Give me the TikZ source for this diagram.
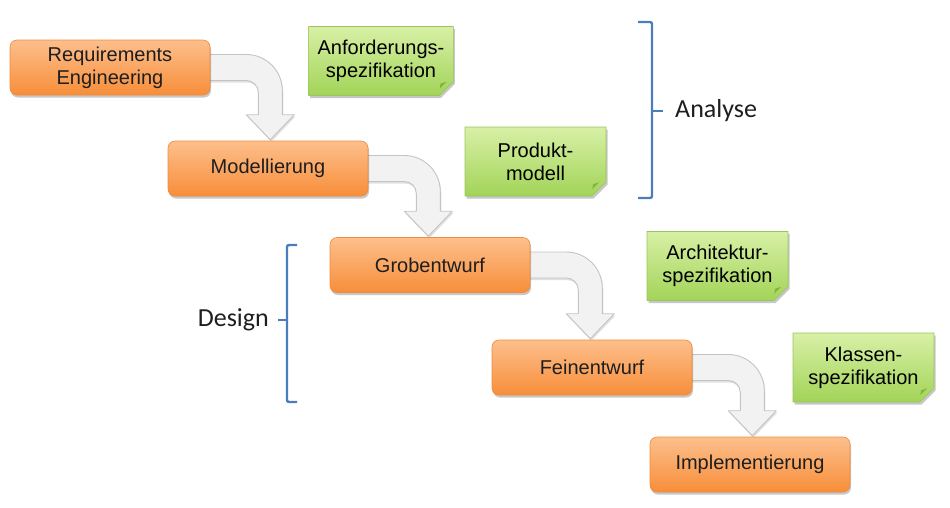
\documentclass[tikz,border=0pt]{standalone}
\usepackage{fontspec}
\setmainfont{Liberation Sans}
\newfontfamily\calib{Carlito}
\usetikzlibrary{calc,shadows,shapes.misc}
\pgfdeclarelayer{background}
\pgfsetlayers{background,main}
\definecolor{orTop}{HTML}{FDBF8C}
\definecolor{orBot}{HTML}{F78E3A}
\definecolor{orLine}{HTML}{F08A3C}
\definecolor{grTop}{HTML}{D8F0A6}
\definecolor{grBot}{HTML}{A2D458}
\definecolor{grLine}{HTML}{9CC45E}
\definecolor{grFold}{HTML}{86B040}
\definecolor{arFill}{HTML}{F2F2F2}
\definecolor{arLine}{HTML}{C4C4C4}
\definecolor{brBlue}{HTML}{4A7EBB}
\definecolor{txt}{HTML}{1E1E1E}
\tikzset{
  phase/.style={rectangle, rounded corners=7pt, minimum width=200pt, minimum height=55pt,
    top color=orTop, bottom color=orBot, draw=orLine, line width=0.6pt,
    drop shadow={shadow xshift=1pt, shadow yshift=-2.5pt, opacity=0.22, fill=black},
    align=center, font=\fontsize{20}{23}\selectfont, text=txt, inner sep=2pt},
  note/.style={chamfered rectangle, chamfered rectangle corners=south east,
    chamfered rectangle xsep=7pt, chamfered rectangle ysep=7pt,
    minimum width=141pt, minimum height=69pt, inner sep=2pt,
    top color=grTop, bottom color=grBot, draw=grLine, line width=0.6pt,
    drop shadow={shadow xshift=1.5pt, shadow yshift=-2.5pt, opacity=0.22, fill=black},
    align=center, font=\fontsize{20}{23}\selectfont, text=black},
  barrow/.style={fill=arFill, draw=arLine, line width=0.9pt, line join=round,
    drop shadow={shadow xshift=1pt, shadow yshift=-2pt, opacity=0.12, fill=black}},
  bracket/.style={draw=brBlue, line width=2.4pt, rounded corners=2pt},
  phaselabel/.style={font=\calib\fontsize{26}{30}\selectfont, text=txt, inner sep=0pt}
}
\newcommand\bendarrow[2]{%
  \path[barrow] let \p1=(#1.east), \p2=(#2.north) in
    (\x1-4pt,\y1+13pt) -- (\x1+36pt,\y1+13pt)
    arc[start angle=90, end angle=0, radius=36pt]
    -- (\x1+72pt,\y2+26pt) -- (\x1+84pt,\y2+26pt) -- (\x1+60pt,\y2+1pt)
    -- (\x1+36pt,\y2+26pt) -- (\x1+48pt,\y2+26pt) -- (\x1+48pt,\y1-25pt)
    arc[start angle=0, end angle=90, radius=12pt]
    -- (\x1-4pt,\y1-13pt) -- cycle;}
\begin{document}
\begin{tikzpicture}[x=1pt,y=-1pt]
\useasboundingbox (0,0) rectangle (950,507);
% phases
\node[phase] (req) at (110,67.5) {Requirements\\Engineering};
\node[phase] (mod) at (268,168.5) {Modellierung};
\node[phase] (grob) at (430,265) {Grobentwurf};
\node[phase] (fein) at (592,367.5) {Feinentwurf};
\node[phase] (impl) at (750,464.5) {Implementierung};
% notes
\node[note] (n1) at (381,61) {Anforderungs-\\spezifikation};
\node[note] (n2) at (535.5,161.5) {Produkt-\\modell};
\node[note] (n3) at (717.5,266) {Architektur-\\spezifikation};
\node[note] (n4) at (863.5,367.5) {Klassen-\\spezifikation};
\foreach \n in {n1,n2,n3,n4}{
  \fill[grFold] ($(\n.south east)+(-7,0)$) -- ($(\n.south east)+(0,-7)$) -- ($(\n.south east)+(-6,-5)$) -- cycle;
}
% arrows
\begin{pgfonlayer}{background}
\bendarrow{req}{mod}
\bendarrow{mod}{grob}
\bendarrow{grob}{fein}
\bendarrow{fein}{impl}
\end{pgfonlayer}
% brackets
\draw[bracket] (638,22) -- (652,22) -- (652,198) -- (638,198);
\draw[bracket] (652,111) -- (663,111);
\node[phaselabel, anchor=west] (ana) at (675,111) {Analyse};
\draw[bracket] (297,245) -- (287,245) -- (287,402) -- (297,402);
\draw[bracket] (287,320) -- (278,320);
\node[phaselabel, anchor=east] (des) at (269,320) {Design};
\end{tikzpicture}
\end{document}
